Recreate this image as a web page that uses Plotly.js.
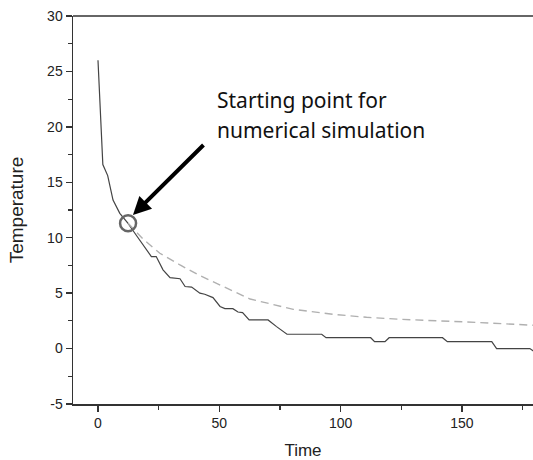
<!DOCTYPE html>
<html>
<head>
<meta charset="utf-8">
<script src="https://cdn.plot.ly/plotly-3.0.1.min.js"></script>
<style>html,body{margin:0;padding:0;background:#fff;}#chart{width:533px;height:460px;}</style>
</head>
<body>
<div id="chart"></div>
<script>
// Measured temperature (solid line)
var measuredTime = [0, 2, 4, 6.2, 9, 12.4, 15.2, 19.4, 22, 24, 26.8, 29.7, 33.8, 35.9, 38.6, 42, 44, 47.4, 50.3, 52.3, 55.6, 57.7, 59.6, 62.3, 70.1, 73.6, 77.9, 92.2, 94, 112.4, 114, 118.3, 120, 142, 144, 162.3, 164.3, 178, 180];
var measuredTemp = [26, 16.6, 15.6, 13.4, 12.2, 11.3, 10.4, 9.05, 8.3, 8.3, 7.1, 6.4, 6.3, 5.6, 5.55, 5.0, 4.9, 4.6, 3.8, 3.6, 3.6, 3.3, 3.24, 2.58, 2.58, 1.98, 1.29, 1.29, 0.98, 0.98, 0.62, 0.62, 0.98, 0.98, 0.62, 0.62, 0.0, 0.0, -0.3];
// Numerical simulation (dashed line)
var simTime = [12.4, 15.9, 18.7, 25.5, 33.8, 42, 50.3, 62.7, 80.5, 97, 110.7, 124.5, 152, 180];
var simTemp = [11.3, 10.5, 9.85, 8.6, 7.54, 6.58, 5.73, 4.47, 3.54, 3.09, 2.82, 2.64, 2.4, 2.1];
// Starting point marker
var startPoint = {x: 12.4, y: 11.3};
var xTicks = [0, 50, 100, 150];
var yTicks = [-5, 0, 5, 10, 15, 20, 25, 30];
var annotationLines = ['Starting point for', 'numerical simulation'];

var traces = [
  {x: measuredTime, y: measuredTemp, mode: 'lines', line: {color: '#444', width: 1.2}, hoverinfo: 'skip'},
  {x: simTime, y: simTemp, mode: 'lines', line: {color: '#b0b0b0', width: 1.4, dash: '8px,5px'}, hoverinfo: 'skip'}
];

var tickFont = {family: 'Liberation Sans, Arial, sans-serif', size: 14, color: '#222'};
var layout = {
  width: 533, height: 460,
  margin: {l: 73, r: 0, t: 16, b: 56},
  paper_bgcolor: '#fff', plot_bgcolor: '#fff',
  showlegend: false,
  xaxis: {
    range: [-10.3, 179.3], showgrid: false, zeroline: false,
    showline: true, linecolor: '#333', linewidth: 1.5,
    ticks: 'outside', ticklen: 6, tickwidth: 1.3, tickcolor: '#333',
    tickvals: xTicks, ticktext: xTicks.map(String),
    minor: {tickvals: [25, 75, 125, 175], ticks: 'outside', ticklen: 4, tickwidth: 1.2, tickcolor: '#333'},
    tickfont: tickFont,
    title: {text: 'Time', font: {family: 'Liberation Sans, Arial, sans-serif', size: 17, color: '#222'}, standoff: 16}
  },
  yaxis: {
    range: [-5, 30], showgrid: false, zeroline: false,
    showline: true, linecolor: '#333', linewidth: 1.5,
    ticks: 'outside', ticklen: 6, tickwidth: 1.3, tickcolor: '#333',
    tickvals: yTicks, ticktext: yTicks.map(String),
    minor: {tickvals: [-2.5, 2.5, 7.5, 12.5, 17.5, 22.5, 27.5], ticks: 'outside', ticklen: 4, tickwidth: 1.2, tickcolor: '#333'},
    tickfont: tickFont,
    title: {text: 'Temperature', font: {family: 'Liberation Sans, Arial, sans-serif', size: 19, color: '#222'}, standoff: 18}
  },
  shapes: [
    {type: 'line', xref: 'paper', yref: 'paper', x0: 0, x1: 1, y0: 1, y1: 1, line: {color: '#333', width: 1.5}},
    {type: 'circle', xref: 'x', yref: 'y', xsizemode: 'pixel', ysizemode: 'pixel',
     xanchor: startPoint.x, yanchor: startPoint.y, x0: -8, x1: 8, y0: -8, y1: 8,
     line: {color: '#666', width: 2.5}}
  ],
  annotations: [
    {x: 14.4, y: 12.05, ax: 44.1, ay: 18.5, axref: 'x', ayref: 'y', xref: 'x', yref: 'y',
     text: '', showarrow: true, arrowhead: 2, arrowsize: 0.9, arrowwidth: 4, arrowcolor: '#000'},
    {x: 48.2, y: 22.4, xref: 'x', yref: 'y', xanchor: 'left', yanchor: 'middle', showarrow: false,
     text: annotationLines[0], font: {family: 'Noto Sans, sans-serif', size: 21, color: '#111'}},
    {x: 48.2, y: 19.7, xref: 'x', yref: 'y', xanchor: 'left', yanchor: 'middle', showarrow: false,
     text: annotationLines[1], font: {family: 'Noto Sans, sans-serif', size: 21, color: '#111'}}
  ]
};
Plotly.newPlot('chart', traces, layout, {staticPlot: true, displayModeBar: false});
</script>
</body>
</html>
